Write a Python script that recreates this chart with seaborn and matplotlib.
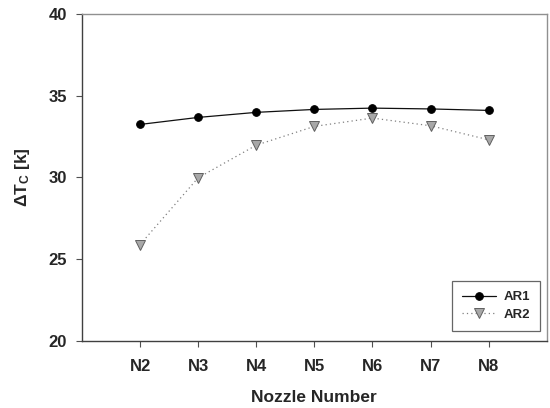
import matplotlib
matplotlib.use("Agg")
import matplotlib.pyplot as plt
import seaborn as sns
import pandas as pd

sns.set_theme(style="white")
plt.rcParams['font.family'] = ['Liberation Sans', 'DejaVu Sans']
plt.rcParams['mathtext.default'] = 'regular'

# data
nozzles = ["N2", "N3", "N4", "N5", "N6", "N7", "N8"]
nozzle_pos = [2, 3, 4, 5, 6, 7, 8]
ar1 = [33.25, 33.68, 33.99, 34.17, 34.25, 34.20, 34.11]
ar2 = [25.89, 29.98, 31.98, 33.13, 33.64, 33.17, 32.31]

df = pd.DataFrame({"pos": nozzle_pos, "AR1": ar1, "AR2": ar2})

fig = plt.figure(figsize=(5.5, 4.08), dpi=100)
ax = fig.add_axes([0.149, 0.165, 0.845, 0.8])

sns.lineplot(data=df, x="pos", y="AR1", ax=ax, color="#101010", lw=0.9,
             marker="o", markersize=5.5, markerfacecolor="black",
             markeredgecolor="black", label="AR1")
sns.lineplot(data=df, x="pos", y="AR2", ax=ax, color="#808080", lw=0.9,
             linestyle=(0, (1, 2.5)), marker="v", markersize=6.5,
             markerfacecolor="#a8a8a8", markeredgecolor="#606060",
             markeredgewidth=0.7, label="AR2")

ax.set_xlim(1, 9)
ax.set_ylim(20, 40)
ax.set_xticks(nozzle_pos)
ax.set_xticklabels(nozzles)
ax.set_yticks([20, 25, 30, 35, 40])
ax.tick_params(axis="both", direction="out", length=4, width=0.8,
               color="#505050", labelsize=12, bottom=True, left=True)
ax.tick_params(axis="x", pad=9.5)
ax.tick_params(axis="y", pad=7)
for lab in ax.get_xticklabels() + ax.get_yticklabels():
    lab.set_fontweight("bold")

ax.set_xlabel("Nozzle Number", fontsize=12.5, fontweight="bold", labelpad=11)
ax.set_ylabel(r"ΔT$_\mathregular{C}$ [k]", fontsize=12.5, fontweight="bold", labelpad=12)

ax.spines["left"].set_color("#404040")
ax.spines["bottom"].set_color("#404040")
ax.spines["top"].set_color("#909090")
ax.spines["right"].set_color("#909090")
for s in ax.spines.values():
    s.set_linewidth(1.0)

leg = ax.legend(loc="lower right", bbox_to_anchor=(0.986, 0.03), fontsize=9.5,
                frameon=True, fancybox=False, handlelength=2.6,
                borderpad=0.75, labelspacing=0.4, handletextpad=0.6,
                borderaxespad=0)
leg.get_frame().set_edgecolor("#404040")
leg.get_frame().set_linewidth(0.9)
for t in leg.get_texts():
    t.set_fontweight("bold")

fig.savefig("out.png", dpi=100)
